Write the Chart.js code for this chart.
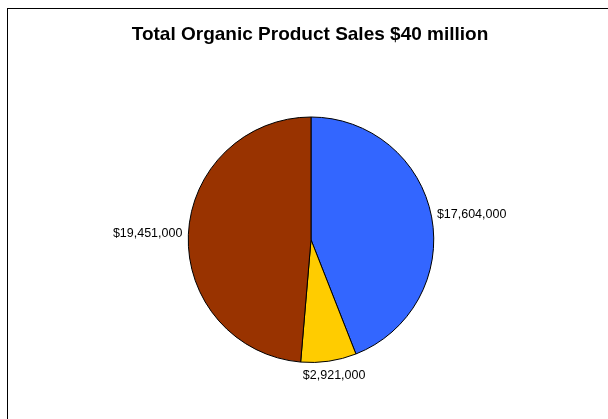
<!DOCTYPE html>
<html>
<head>
<meta charset="utf-8">
<script src="https://cdn.jsdelivr.net/npm/chart.js@4"></script>
<style>
  html, body { margin: 0; padding: 0; background: #fff; overflow: hidden; }
  #wrap { width: 608px; height: 419px; }
</style>
</head>
<body>
<div id="wrap"><canvas id="salesChart" width="608" height="419"></canvas></div>
<script>
// Chart data
const categories = ['Segment 1', 'Segment 2', 'Segment 3']
const sales = [17604000, 2921000, 19451000]
const sliceColors = ['#3366FF', '#FFCC00', '#993300']
const chartTitle = 'Total Organic Product Sales $40 million'

const fontFamily = '"Liberation Sans", Arimo, Helvetica, sans-serif'

function formatMoney(v) {
  return '$' + v.toLocaleString('en-US')
}

// Outer frame and title (title drawn here so it is not squeezed by the side padding)
const framePlugin = {
  id: 'frame',
  afterDraw(chart) {
    const ctx = chart.ctx
    ctx.save()
    ctx.strokeStyle = '#000'
    ctx.lineWidth = 1
    ctx.strokeRect(7.5, 8.5, 700, 700)
    ctx.font = 'bold 19px ' + fontFamily
    ctx.fillStyle = '#000'
    ctx.textAlign = 'center'
    ctx.textBaseline = 'alphabetic'
    ctx.fillText(chartTitle, 310, 40)
    ctx.restore()
  }
}

// Value labels outside each slice
const sliceLabels = {
  id: 'sliceLabels',
  afterDatasetsDraw(chart) {
    const ctx = chart.ctx
    const meta = chart.getDatasetMeta(0)
    ctx.save()
    ctx.font = '12.5px ' + fontFamily
    ctx.fillStyle = '#000'
    ctx.textAlign = 'center'
    ctx.textBaseline = 'middle'
    meta.data.forEach((arc, i) => {
      const p = arc.getProps(['x', 'y', 'startAngle', 'endAngle', 'outerRadius'], true)
      const mid = (p.startAngle + p.endAngle) / 2
      const text = formatMoney(sales[i])
      const w = ctx.measureText(text).width
      const h = 16
      const r = p.outerRadius + 6
      const cx = p.x + Math.cos(mid) * r + Math.cos(mid) * w / 2
      const cy = p.y + Math.sin(mid) * r + Math.sin(mid) * h / 2
      ctx.fillText(text, cx, cy)
    })
    ctx.restore()
  }
}

new Chart(document.getElementById('salesChart'), {
  type: 'pie',
  data: {
    labels: categories,
    datasets: [
      {
        data: sales,
        backgroundColor: sliceColors,
        borderColor: '#000',
        borderWidth: 1,
        hoverOffset: 0
      }
    ]
  },
  options: {
    responsive: false,
    devicePixelRatio: 1,
    animation: false,
    layout: {
      padding: { left: 187, right: 173, top: 116.5, bottom: 56 }
    },
    plugins: {
      legend: { display: false },
      tooltip: { enabled: false },
      title: { display: false }
    }
  },
  plugins: [framePlugin, sliceLabels]
})
</script>
</body>
</html>
